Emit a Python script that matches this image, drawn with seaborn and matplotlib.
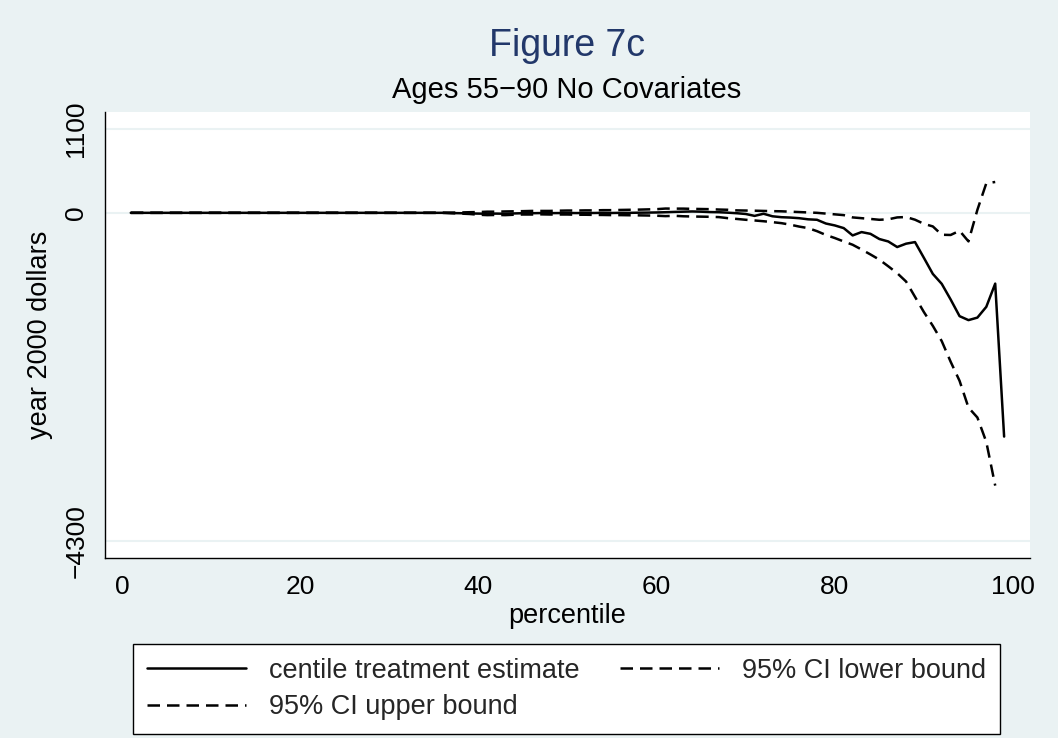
import numpy as np
import pandas as pd
import matplotlib
matplotlib.use("Agg")
import matplotlib.pyplot as plt
import seaborn as sns

# Centile treatment estimates (percentiles 1..99), year 2000 dollars
estimate = [
    0, 0, 0, 0, 0, 0, 0, 0, 0, 0,
    0, 0, 0, 0, 0, 0, 0, 0, 0, 0,
    0, 0, 0, 0, 0, 0, 0, 0, 0, 0,
    0, 0, 0, 0, 0, 0, -3, -5, -8, -10,
    -12, -10, -12, -8, -5, -5, -3, -4, -3, -2,
    -3, -2, -2, 0, -2, 0, 0, 2, 3, 5,
    8, 12, 15, 18, 15, 10, 8, 2, -5, -15,
    -40, -12, -45, -57, -62, -70, -85, -91, -140, -165,
    -200, -296, -252, -275, -343, -375, -448, -404, -383, -590,
    -800, -930, -1135, -1353, -1405, -1372, -1231, -927, -2930,
]

# 95% confidence bounds (percentiles 1..98)
upper = [
    0, 0, 0, 0, 0, 0, 0, 0, 0, 0,
    0, 0, 0, 0, 0, 0, 0, 0, 0, 0,
    0, 0, 0, 0, 0, 0, 0, 0, 0, 0,
    0, 0, 0, 0, 0, 0, 3, 5, 8, 10,
    15, 15, 18, 20, 22, 25, 25, 25, 28, 30,
    30, 32, 32, 35, 35, 38, 40, 42, 45, 48,
    56, 55, 55, 52, 50, 48, 43, 40, 32, 30,
    28, 25, 22, 20, 15, 10, 5, 0, -10, -20,
    -30, -60, -70, -80, -91, -85, -60, -55, -90, -144,
    -178, -287, -290, -235, -374, 39, 387, 404,
]

lower = [
    0, 0, 0, 0, 0, 0, 0, 0, 0, 0,
    0, 0, 0, 0, 0, 0, 0, 0, 0, 0,
    0, 0, 0, 0, 0, 0, 0, 0, 0, 0,
    0, 0, 0, 0, 0, 0, -5, -10, -15, -25,
    -30, -28, -30, -25, -22, -22, -20, -22, -22, -22,
    -25, -25, -27, -28, -30, -30, -32, -33, -35, -38,
    -43, -39, -45, -48, -50, -52, -56, -70, -80, -91,
    -100, -110, -122, -135, -155, -180, -200, -240, -290, -330,
    -375, -418, -480, -545, -613, -700, -790, -900, -1100, -1300,
    -1480, -1680, -1950, -2200, -2550, -2680, -3000, -3572,
]

est_df = pd.DataFrame({"percentile": np.arange(1, len(estimate) + 1), "value": estimate})
up_df = pd.DataFrame({"percentile": np.arange(1, len(upper) + 1), "value": upper})
lo_df = pd.DataFrame({"percentile": np.arange(1, len(lower) + 1), "value": lower})

xticks = [0, 20, 40, 60, 80, 100]
yticks = [-4300, 0, 1100]

BG = "#eaf2f3"
sns.set_style("white")
plt.rcParams["font.family"] = ["Liberation Sans", "DejaVu Sans"]

fig = plt.figure(figsize=(10.58, 7.38), dpi=100, facecolor=BG)
ax = fig.add_axes([0.0992, 0.2439, 0.8743, 0.6043])
ax.set_facecolor("white")

LW = 1.8
dash = (0, (5.0, 2.8))
sns.lineplot(data=est_df, x="percentile", y="value", ax=ax, color="black",
             linewidth=LW, label="centile treatment estimate")
sns.lineplot(data=up_df, x="percentile", y="value", ax=ax, color="black",
             linewidth=LW, linestyle=dash, label="95% CI upper bound")
sns.lineplot(data=lo_df, x="percentile", y="value", ax=ax, color="black",
             linewidth=LW, linestyle=dash, label="95% CI lower bound")

ax.set_xlim(-1.9, 101.9)
ax.set_ylim(-4520, 1320)
ax.set_xticks(xticks)
ax.set_yticks(yticks)
ax.set_yticklabels(["\u22124300", "0", "1100"])
for y in yticks:
    ax.axhline(y, color=BG, linewidth=1.5, zorder=0)

for s in ["top", "right"]:
    ax.spines[s].set_visible(False)
for s in ["left", "bottom"]:
    ax.spines[s].set_color("black")
    ax.spines[s].set_linewidth(1.0)

ax.tick_params(axis="both", which="major", direction="out", length=7, width=1,
               color="black", labelsize=19, labelcolor="black", pad=5)
for lab in ax.get_yticklabels():
    lab.set_rotation(90)
    lab.set_va("center")

ax.set_xlabel("percentile", fontsize=19.5, color="black", labelpad=3)
ax.set_ylabel("year 2000 dollars", fontsize=19.5, color="black", labelpad=8)

fig.text(0.536, 0.938, "Figure 7c", ha="center", va="center",
         fontsize=27, color="#22386a")
fig.text(0.536, 0.878, "Ages 55\u221290 No Covariates", ha="center", va="center",
         fontsize=21, color="black")

handles, labels = ax.get_legend_handles_labels()
ax.get_legend().remove()
leg = fig.legend(handles, labels, ncol=2, loc="upper left",
                 bbox_to_anchor=(0.1257, 0.0108, 0.8193, 0.1166), mode="expand",
                 fontsize=19.5, frameon=True, fancybox=False, edgecolor="black",
                 facecolor="white", handlelength=3.67, handletextpad=0.85,
                 borderpad=0.5, labelspacing=0.4, borderaxespad=0)
leg.get_frame().set_linewidth(1.0)
leg.get_frame().set_alpha(1)

fig.savefig("out.png", dpi=100, facecolor=BG)
